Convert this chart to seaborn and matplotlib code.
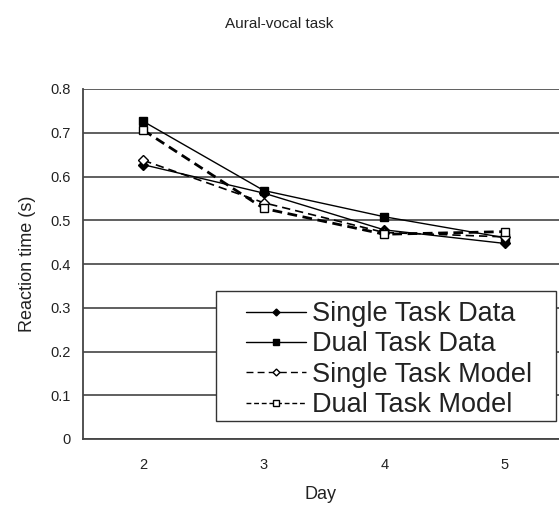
import matplotlib
matplotlib.use("Agg")
import matplotlib.pyplot as plt
from matplotlib.patches import Rectangle
import seaborn as sns
import pandas as pd

days = ["2", "3", "4", "5"]
single_data = [0.627, 0.562, 0.478, 0.447]
dual_data = [0.726, 0.568, 0.508, 0.460]
single_model = [0.637, 0.540, 0.472, 0.462]
dual_model = [0.706, 0.527, 0.468, 0.474]
yticks = [0, 0.1, 0.2, 0.3, 0.4, 0.5, 0.6, 0.7, 0.8]

sns.set_style("white")
plt.rcParams['font.family'] = ['Liberation Sans', 'DejaVu Sans']

fig = plt.figure(figsize=(5.59, 5.15), dpi=100)
ax = fig.add_axes([83/559, 1-439/515, 476/559, 350/515])

xpos = list(range(len(days)))
series = [
    ("Single Task Data", single_data, dict(marker="D", color="black", lw=1.0, ls="-", mfc="black", ms=5.0)),
    ("Dual Task Data", dual_data, dict(marker="s", color="black", lw=1.0, ls="-", mfc="black", ms=6.0)),
    ("Single Task Model", single_model, dict(marker="D", color="black", lw=1.2, ls=(0, (5, 3)), mfc="white", ms=5.0)),
    ("Dual Task Model", dual_model, dict(marker="s", color="black", lw=2.0, ls=(0, (3.5, 2)), mfc="white", ms=6.0)),
]
for name, vals, st in series:
    df = pd.DataFrame({"x": xpos, "y": vals})
    sns.lineplot(data=df, x="x", y="y", ax=ax, label=name, color=st["color"],
                 linewidth=st["lw"], linestyle=st["ls"], marker=st["marker"],
                 markerfacecolor=st["mfc"], markeredgecolor="black",
                 markeredgewidth=1.0, markersize=st["ms"])

ax.set_xlim(-0.5, 3.45)
ax.set_ylim(0, 0.8)
ax.set_yticks(yticks)
ax.set_yticklabels(["0" if v == 0 else f"{v:.1f}" for v in yticks], fontsize=10.5, color="#222222")
ax.set_xticks(xpos)
ax.set_xticklabels(days, fontsize=10.5, color="#222222")
ax.set_xticks([0.5, 1.5, 2.5], minor=True)
ax.tick_params(axis="x", which="major", length=0, pad=14)
ax.tick_params(axis="x", which="minor", length=5, width=1.2, color="#444444", direction="out")
ax.tick_params(axis="y", which="major", length=6, width=1.2, color="#444444", direction="out", pad=3)
ax.yaxis.grid(True, color="#444444", linewidth=1.2)
ax.set_axisbelow(True)
for s in ["top", "right"]:
    ax.spines[s].set_visible(False)
for s in ["left", "bottom"]:
    ax.spines[s].set_color("#444444")
    ax.spines[s].set_linewidth(1.3)

ax.set_xlabel("Day", fontsize=13, labelpad=10, color="#222222")
ax.set_ylabel("Reaction time (s)", fontsize=13, labelpad=10, color="#222222")
fig.text(0.5, 1-24/515, "Aural-vocal task", ha="center", va="center", fontsize=11, color="#222222")

ax.get_legend().remove()
h, l = ax.get_legend_handles_labels()

# legend box
fig.patches.append(Rectangle((216/559, 1-421/515), 340/559, 130/515, transform=fig.transFigure,
                             facecolor="white", edgecolor="#333333", linewidth=1.0, zorder=4))
leg = fig.legend(h, l, loc="upper left", bbox_to_anchor=(246/559, 1-301/515),
                 fontsize=19.5, frameon=False, borderaxespad=0,
                 borderpad=0, labelspacing=0.16, handlelength=2.2, handletextpad=0.25,
                 markerscale=0.7)
leg.set_zorder(5)
for t in leg.get_texts():
    t.set_color("#222222")
for line in leg.get_lines():
    line.set_linewidth(1.0)

fig.savefig("out.png", dpi=100)
